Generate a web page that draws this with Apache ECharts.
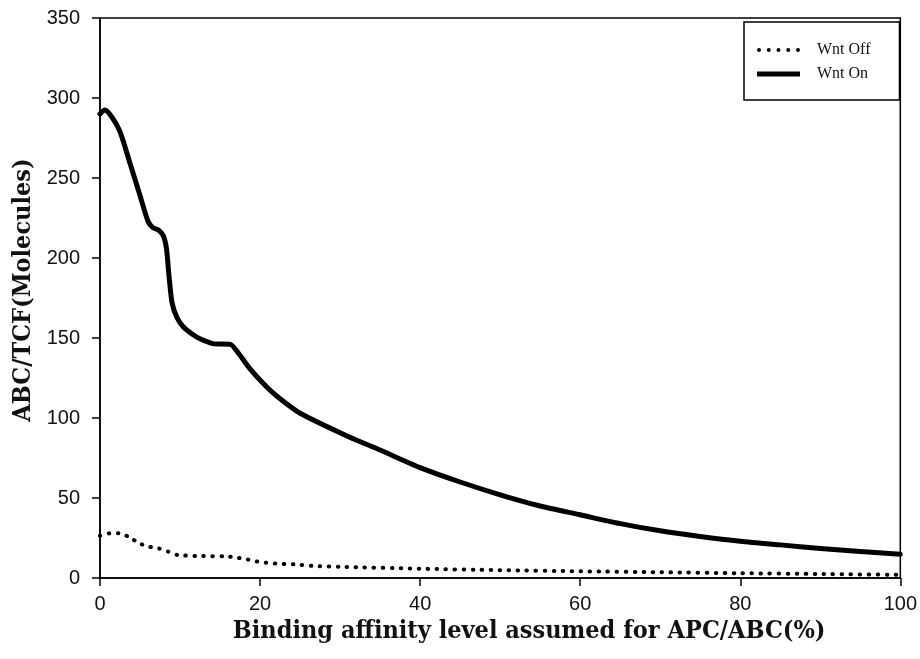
<!DOCTYPE html>
<html>
<head>
<meta charset="utf-8">
<script src="https://cdn.jsdelivr.net/npm/echarts@6/dist/echarts.min.js"></script>
<style>
html,body{margin:0;padding:0;background:#fff;}
#chart{width:920px;height:659px;}
</style>
</head>
<body>
<div id="chart"></div>
<script>
// Wnt On (solid)
var onX = [0, 0.6, 1.5, 2.5, 3.7, 5.0, 6.0, 6.6, 7.3, 7.9, 8.3, 8.6, 9.0, 9.6, 10.4, 11.5, 12.5, 14.1, 16.3, 17.0, 18.7, 20.8, 22.5, 25, 31, 35, 40, 45, 50, 55, 60, 65, 70, 75, 80, 85, 90, 95, 100];
var onY = [290, 292.5, 288, 279, 260, 239, 223, 219, 217.5, 214, 206, 190, 172, 163, 157, 152.5, 149.5, 146.5, 146, 142.5, 131, 119.5, 112, 103, 88.5, 80, 69, 60, 52, 45, 39.5, 34, 29.5, 26, 23, 20.7, 18.5, 16.6, 14.8];
// Wnt Off (dotted)
var offX = [0, 1.2, 2.4, 3.7, 4.9, 6.1, 7.3, 8.5, 9.7, 12, 15.8, 17.1, 18.3, 19.5, 20.7, 21.9, 24.3, 26.7, 30, 40, 50, 60, 70, 80, 90, 100];
var offY = [26.4, 27.9, 27.9, 25.4, 21.7, 19.6, 18.5, 16.5, 14.4, 13.8, 13.5, 12.7, 11.7, 10.4, 9.6, 9.0, 8.5, 7.5, 7.0, 5.8, 4.9, 4.2, 3.6, 3.0, 2.5, 2.0];
var seriesNames = ['Wnt Off', 'Wnt On'];
var xTitle = 'Binding affinity level assumed for APC/ABC(%)';
var yTitle = 'ABC/TCF(Molecules)';

function pairs(xs, ys) { return xs.map(function (x, i) { return [x, ys[i]]; }); }

// legend sample icons (43 x 14 box)
var bboxMarks = 'M0,0L0.01,0L0,0.01Z M43,14L42.99,14L43,13.99Z ';
function dot(cx) { return 'M' + (cx - 2) + ',7 a2,2 0 1,0 4,0 a2,2 0 1,0 -4,0 Z '; }
var iconOff = 'path://' + bboxMarks + dot(2) + dot(11.75) + dot(21.5) + dot(31.25) + dot(41);
var iconOn = 'path://' + bboxMarks + 'M0,4.5 L43,4.5 L43,9.5 L0,9.5 Z';

var chart = echarts.init(document.getElementById('chart'), null, {renderer: 'canvas'});
var serifBold = "'DejaVu Serif Condensed', 'DejaVu Serif', serif";
var legendFont = "'Liberation Serif', serif";
var sans = "'Liberation Sans', Arial, sans-serif";
chart.setOption({
  animation: false,
  backgroundColor: '#fff',
  grid: {left: 100, right: 19, top: 18, bottom: 81, show: true, borderColor: '#000', borderWidth: 1.5, containLabel: false},
  legend: {
    data: [{name: seriesNames[0], icon: iconOff}, {name: seriesNames[1], icon: iconOn}],
    orient: 'vertical',
    left: 744, top: 22,
    padding: [20, 29, 18, 13],
    itemGap: 8,
    itemWidth: 43, itemHeight: 14,
    borderColor: '#000', borderWidth: 1.5,
    backgroundColor: '#fff',
    itemStyle: {color: '#000'},
    textStyle: {fontFamily: legendFont, fontSize: 16, color: '#111', padding: [0, 0, 0, 12]}
  },
  xAxis: {
    type: 'value', min: 0, max: 100, interval: 20,
    name: xTitle, nameLocation: 'middle', nameGap: 37,
    nameTextStyle: {fontFamily: serifBold, fontWeight: 'bold', fontSize: 25, color: '#111', padding: [0, 0, 0, 58]},
    axisLine: {show: true, onZero: false, lineStyle: {color: '#000', width: 1.5}},
    axisTick: {show: true, inside: false, length: 8, lineStyle: {color: '#000', width: 1.5}},
    axisLabel: {fontFamily: sans, fontSize: 20, color: '#111', margin: 16},
    splitLine: {show: false}
  },
  yAxis: {
    type: 'value', min: 0, max: 350, interval: 50,
    name: yTitle, nameLocation: 'middle', nameGap: 64, nameRotate: 90,
    nameTextStyle: {fontFamily: serifBold, fontWeight: 'bold', fontSize: 25, color: '#111', padding: [0, 0, 0, 16]},
    axisLine: {show: true, lineStyle: {color: '#000', width: 1.5}},
    axisTick: {show: true, inside: false, length: 8, lineStyle: {color: '#000', width: 1.5}},
    axisLabel: {fontFamily: sans, fontSize: 20, color: '#111', margin: 20},
    splitLine: {show: false}
  },
  series: [
    {
      name: seriesNames[0], type: 'line', data: pairs(offX, offY),
      symbol: 'none', smooth: 0.25,
      lineStyle: {color: '#000', width: 4, type: [0.5, 8.5], cap: 'round'},
      itemStyle: {color: '#000'}
    },
    {
      name: seriesNames[1], type: 'line', data: pairs(onX, onY),
      symbol: 'none', smooth: 0.25,
      lineStyle: {color: '#000', width: 5, cap: 'round', join: 'round'},
      itemStyle: {color: '#000'}
    }
  ]
});
</script>
</body>
</html>
